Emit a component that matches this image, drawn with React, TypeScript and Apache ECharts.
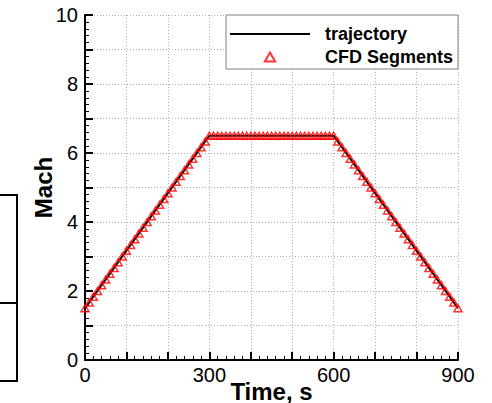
import React, { useEffect, useRef } from 'react';
import * as echarts from 'echarts';

const trajTime = [0, 300, 600, 900];
const trajMach = [1.5, 6.5, 6.5, 1.5];

const cfdTime = [
  0, 10, 20, 30, 40, 50, 60, 70, 80, 90,
  100, 110, 120, 130, 140, 150, 160, 170, 180, 190,
  200, 210, 220, 230, 240, 250, 260, 270, 280, 290,
  300, 310, 320, 330, 340, 350, 360, 370, 380, 390,
  400, 410, 420, 430, 440, 450, 460, 470, 480, 490,
  500, 510, 520, 530, 540, 550, 560, 570, 580, 590,
  600, 610, 620, 630, 640, 650, 660, 670, 680, 690,
  700, 710, 720, 730, 740, 750, 760, 770, 780, 790,
  800, 810, 820, 830, 840, 850, 860, 870, 880, 890,
  900,
];

const cfdMach = [
  1.5, 1.667, 1.833, 2, 2.167, 2.333, 2.5, 2.667, 2.833, 3,
  3.167, 3.333, 3.5, 3.667, 3.833, 4, 4.167, 4.333, 4.5, 4.667,
  4.833, 5, 5.167, 5.333, 5.5, 5.667, 5.833, 6, 6.167, 6.333,
  6.5, 6.5, 6.5, 6.5, 6.5, 6.5, 6.5, 6.5, 6.5, 6.5,
  6.5, 6.5, 6.5, 6.5, 6.5, 6.5, 6.5, 6.5, 6.5, 6.5,
  6.5, 6.5, 6.5, 6.5, 6.5, 6.5, 6.5, 6.5, 6.5, 6.5,
  6.5, 6.333, 6.167, 6, 5.833, 5.667, 5.5, 5.333, 5.167, 5,
  4.833, 4.667, 4.5, 4.333, 4.167, 4, 3.833, 3.667, 3.5, 3.333,
  3.167, 3, 2.833, 2.667, 2.5, 2.333, 2.167, 2, 1.833, 1.667,
  1.5,
];

const xTickLabels = [0, 300, 600, 900];
const yTickLabels = [0, 2, 4, 6, 8, 10];

const FONT = '"Liberation Sans", Arial, Helvetica, sans-serif';

export default function App() {
  const ref = useRef<HTMLDivElement>(null);

  useEffect(() => {
    if (!ref.current) return;
    const chart = echarts.init(ref.current, undefined, { renderer: 'svg' });

    const splitStyle = { show: true, lineStyle: { color: '#b0b0b0', width: 1, type: [1, 2] as any } };

    chart.setOption({
      animation: false,
      backgroundColor: '#ffffff',
      textStyle: { fontFamily: FONT, color: '#000' },
      grid: { left: 85, right: 34, top: 15, bottom: 43, containLabel: false, outerBoundsMode: 'none' },
      legend: {
        orient: 'vertical',
        left: 226,
        top: 15,
        padding: [9, 5, 2, 4],
        itemGap: 3,
        itemWidth: 80,
        itemHeight: 9,
        borderColor: '#808080',
        borderWidth: 1,
        backgroundColor: '#fff',
        textStyle: { fontSize: 18, fontWeight: 'bold', color: '#000', lineHeight: 20, padding: [0, 0, 0, 10] },
        data: [
          { name: 'trajectory', icon: 'path://M0,0H80V2H0Z' },
          { name: 'CFD Segments', icon: 'path://M4,0L8,7L0,7Z' },
        ],
      },
      xAxis: {
        type: 'value',
        min: 0,
        max: 900,
        interval: 100,
        name: 'Time, s',
        nameLocation: 'middle',
        nameGap: 20,
        nameMoveOverlap: false,
        nameTextStyle: { fontSize: 24, fontWeight: 'bold', color: '#000', lineHeight: 22 },
        axisLine: { show: true, onZero: false, lineStyle: { color: '#000', width: 2 } },
        axisTick: { show: true, inside: true, length: 8, lineStyle: { color: '#000', width: 2 } },
        minorTick: { show: true, splitNumber: 5, length: 4, lineStyle: { color: '#000', width: 1 } },
        axisLabel: {
          fontSize: 20,
          color: '#000',
          margin: 5,
          formatter: (v: number) => (xTickLabels.includes(v) ? String(v) : ''),
        },
        splitLine: splitStyle,
      },
      yAxis: {
        type: 'value',
        min: 0,
        max: 10,
        interval: 1,
        name: 'Mach',
        nameLocation: 'middle',
        nameGap: 30,
        nameMoveOverlap: false,
        nameTextStyle: { fontSize: 24, fontWeight: 'bold', color: '#000' },
        axisLine: { show: true, onZero: false, lineStyle: { color: '#000', width: 2 } },
        axisTick: { show: true, inside: true, length: 8, lineStyle: { color: '#000', width: 2 } },
        minorTick: { show: true, splitNumber: 5, length: 4, lineStyle: { color: '#000', width: 1 } },
        axisLabel: {
          fontSize: 20,
          color: '#000',
          margin: 7,
          formatter: (v: number) => (yTickLabels.includes(v) ? String(v) : ''),
        },
        splitLine: splitStyle,
      },
      series: [
        {
          name: 'trajectory',
          type: 'line',
          data: trajTime.map((t, i) => [t, trajMach[i]]),
          symbol: 'none',
          lineStyle: { color: '#000', width: 2 },
          itemStyle: { color: '#000' },
          z: 2,
        },
        {
          name: 'CFD Segments',
          type: 'scatter',
          data: cfdTime.map((t, i) => [t, cfdMach[i]]),
          symbol: 'triangle',
          symbolSize: [8, 7],
          itemStyle: { color: 'rgba(255,255,255,0)', borderColor: '#f00', borderWidth: 1.5 },
          z: 3,
        },
      ],
      graphic: [
        {
          type: 'polyline',
          shape: { points: [[0, 195], [17, 195], [17, 381], [0, 381]] },
          style: { stroke: '#000', lineWidth: 2, fill: 'none' },
        },
        {
          type: 'line',
          shape: { x1: 0, y1: 303, x2: 17, y2: 303 },
          style: { stroke: '#000', lineWidth: 2 },
        },
      ],
    });

    return () => chart.dispose();
  }, []);

  return (
    <div
      ref={ref}
      style={{ position: 'fixed', left: 0, top: 0, width: 492, height: 403, background: '#fff' }}
    />
  );
}
